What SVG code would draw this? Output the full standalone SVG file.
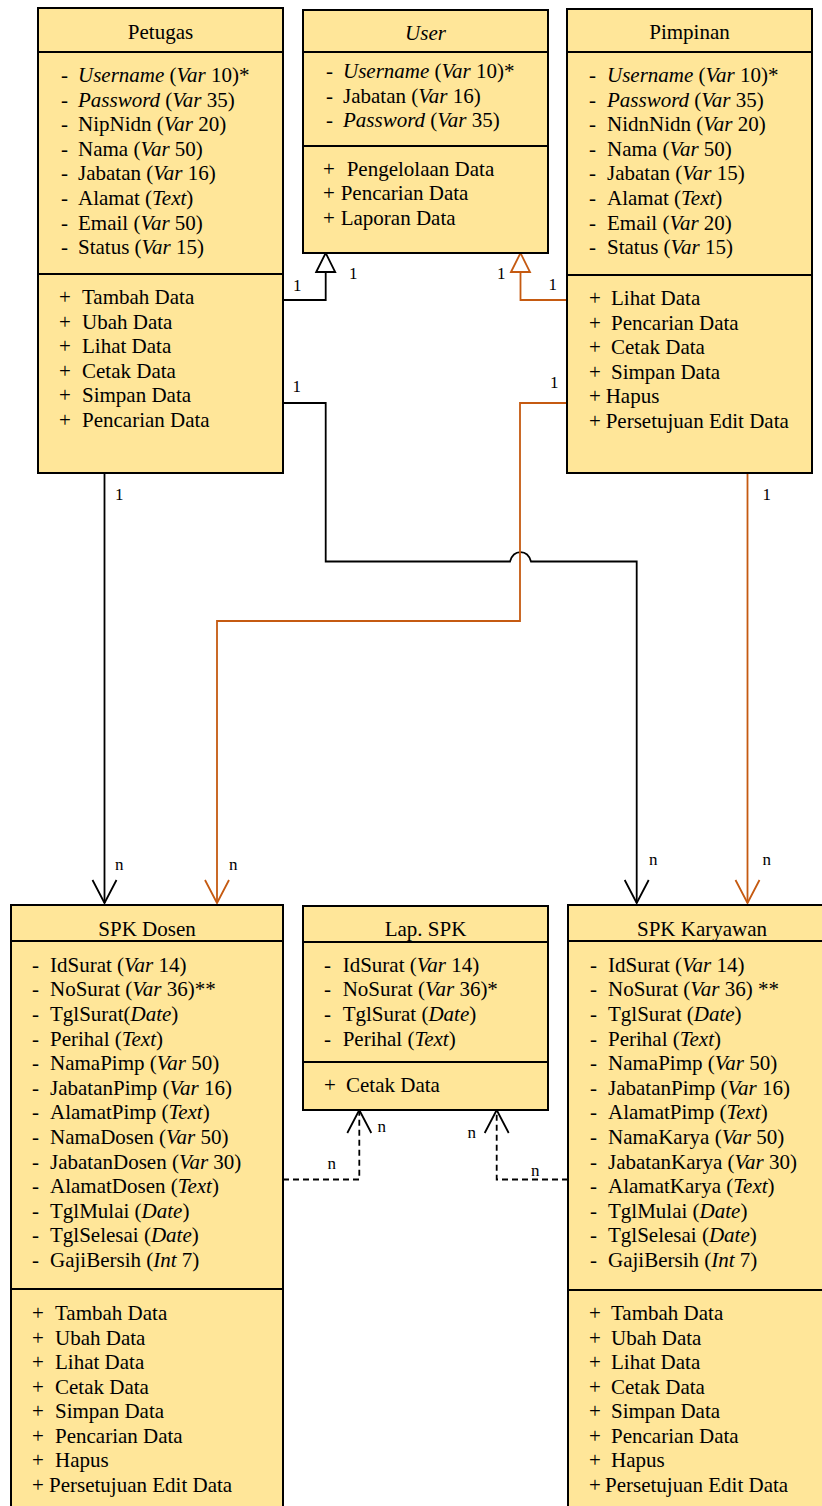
<svg xmlns="http://www.w3.org/2000/svg" width="822" height="1506" viewBox="0 0 822 1506">
<style>
.box{fill:#FFE699;stroke:#000;stroke-width:2}
.div{stroke:#000;stroke-width:2}
text{font-family:Liberation Serif,Tinos,Nimbus Roman,Nimbus Roman No9 L,Noto Serif,DejaVu Serif,FreeSerif,Times New Roman,Times,serif;font-size:21px;fill:#000}
.t{text-anchor:middle}
.i{font-style:italic}
.lbl{font-size:17px}
.cb{fill:none;stroke:#000;stroke-width:1.8}
.co{fill:none;stroke:#C55A11;stroke-width:1.8}
.dash{stroke-dasharray:6 4}
</style>
<defs>
<marker id="openB" markerUnits="userSpaceOnUse" markerWidth="30" markerHeight="30" viewBox="-2 -2 30 28" refX="24" refY="12" orient="auto" overflow="visible"><path d="M1,0 L24,12 L1,24" fill="none" stroke="#000" stroke-width="1.8" stroke-dasharray="none"/></marker>
<marker id="openO" markerUnits="userSpaceOnUse" markerWidth="30" markerHeight="30" viewBox="-2 -2 30 28" refX="24" refY="12" orient="auto" overflow="visible"><path d="M1,0 L24,12 L1,24" fill="none" stroke="#C55A11" stroke-width="1.8"/></marker>
<marker id="triB" markerUnits="userSpaceOnUse" markerWidth="24" markerHeight="24" viewBox="-2 -2 24 24" refX="0" refY="9.5" orient="auto" overflow="visible"><path d="M0,0 L19,9.5 L0,19 Z" fill="#fff" stroke="#000" stroke-width="1.8"/></marker>
<marker id="triO" markerUnits="userSpaceOnUse" markerWidth="24" markerHeight="24" viewBox="-2 -2 24 24" refX="0" refY="9.5" orient="auto" overflow="visible"><path d="M0,0 L19,9.5 L0,19 Z" fill="#fff" stroke="#C55A11" stroke-width="1.8"/></marker>
</defs>
<rect width="822" height="1506" fill="#fff"/>

<g id="connectors">
<path class="cb" d="M283,300 H325.7 V272" marker-end="url(#triB)"/>
<path class="co" d="M567,300 H520.5 V272" marker-end="url(#triO)"/>
<path class="cb" d="M283,403 H325.7 V561.5 H510 C513.5,549 527.5,549 531,561.5 H636.7 V903" marker-end="url(#openB)"/>
<path class="co" d="M567,403 H520 V621 H217 V903" marker-end="url(#openO)"/>
<path class="cb" d="M104.5,473 V903" marker-end="url(#openB)"/>
<path class="co" d="M747.5,473 V903" marker-end="url(#openO)"/>
<path class="cb dash" d="M283,1179.5 H359.3 V1110" marker-end="url(#openB)"/>
<path class="cb dash" d="M568,1179.5 H496.7 V1110" marker-end="url(#openB)"/>
<text class="lbl" x="293" y="291">1</text>
<text class="lbl" x="349" y="279">1</text>
<text class="lbl" x="497" y="279">1</text>
<text class="lbl" x="548.5" y="290">1</text>
<text class="lbl" x="292.5" y="392">1</text>
<text class="lbl" x="550" y="388">1</text>
<text class="lbl" x="115" y="500">1</text>
<text class="lbl" x="762.5" y="500">1</text>
<text class="lbl" x="115" y="870">n</text>
<text class="lbl" x="229" y="870">n</text>
<text class="lbl" x="649" y="865">n</text>
<text class="lbl" x="762.5" y="865">n</text>
<text class="lbl" x="377.5" y="1132">n</text>
<text class="lbl" x="327.5" y="1169">n</text>
<text class="lbl" x="467.5" y="1138">n</text>
<text class="lbl" x="531" y="1176">n</text>
</g>

<g id="petugas">
<rect class="box" x="38" y="8" width="245" height="465"/>
<line class="div" x1="38" y1="52" x2="283" y2="52"/>
<line class="div" x1="38" y1="274" x2="283" y2="274"/>
<text class="t" x="160.5" y="39">Petugas</text>
<text y="82"><tspan x="61">-</tspan><tspan x="78" class="i">Username</tspan> (<tspan class="i">Var</tspan> 10)*</text>
<text y="106.6"><tspan x="61">-</tspan><tspan x="78" class="i">Password</tspan> (<tspan class="i">Var</tspan> 35)</text>
<text y="131.2"><tspan x="61">-</tspan><tspan x="78">NipNidn (</tspan><tspan class="i">Var</tspan> 20)</text>
<text y="155.8"><tspan x="61">-</tspan><tspan x="78">Nama (</tspan><tspan class="i">Var</tspan> 50)</text>
<text y="180.4"><tspan x="61">-</tspan><tspan x="78">Jabatan (</tspan><tspan class="i">Var</tspan> 16)</text>
<text y="205"><tspan x="61">-</tspan><tspan x="78">Alamat (</tspan><tspan class="i">Text</tspan>)</text>
<text y="229.6"><tspan x="61">-</tspan><tspan x="78">Email (</tspan><tspan class="i">Var</tspan> 50)</text>
<text y="254.2"><tspan x="61">-</tspan><tspan x="78">Status (</tspan><tspan class="i">Var</tspan> 15)</text>
<text y="304"><tspan x="59">+</tspan><tspan x="82">Tambah Data</tspan></text>
<text y="328.6"><tspan x="59">+</tspan><tspan x="82">Ubah Data</tspan></text>
<text y="353.2"><tspan x="59">+</tspan><tspan x="82">Lihat Data</tspan></text>
<text y="377.8"><tspan x="59">+</tspan><tspan x="82">Cetak Data</tspan></text>
<text y="402.4"><tspan x="59">+</tspan><tspan x="82">Simpan Data</tspan></text>
<text y="427"><tspan x="59">+</tspan><tspan x="82">Pencarian Data</tspan></text>
</g>

<g id="user">
<rect class="box" x="303" y="10" width="245" height="243"/>
<line class="div" x1="303" y1="52" x2="548" y2="52"/>
<line class="div" x1="303" y1="146" x2="548" y2="146"/>
<text class="t i" x="425.5" y="40">User</text>
<text y="78"><tspan x="326">-</tspan><tspan x="343" class="i">Username</tspan> (<tspan class="i">Var</tspan> 10)*</text>
<text y="102.6"><tspan x="326">-</tspan><tspan x="343">Jabatan (</tspan><tspan class="i">Var</tspan> 16)</text>
<text y="127.2"><tspan x="326">-</tspan><tspan x="343" class="i">Password</tspan> (<tspan class="i">Var</tspan> 35)</text>
<text y="175.7"><tspan x="323">+</tspan><tspan x="346.7">Pengelolaan Data</tspan></text>
<text y="200.3"><tspan x="323">+</tspan><tspan x="340.7">Pencarian Data</tspan></text>
<text y="224.9"><tspan x="323">+</tspan><tspan x="340.7">Laporan Data</tspan></text>
</g>

<g id="pimpinan">
<rect class="box" x="567" y="9" width="245" height="464"/>
<line class="div" x1="567" y1="52" x2="812" y2="52"/>
<line class="div" x1="567" y1="275" x2="812" y2="275"/>
<text class="t" x="689.5" y="39">Pimpinan</text>
<text y="82"><tspan x="589">-</tspan><tspan x="607" class="i">Username</tspan> (<tspan class="i">Var</tspan> 10)*</text>
<text y="106.6"><tspan x="589">-</tspan><tspan x="607" class="i">Password</tspan> (<tspan class="i">Var</tspan> 35)</text>
<text y="131.2"><tspan x="589">-</tspan><tspan x="607">NidnNidn (</tspan><tspan class="i">Var</tspan> 20)</text>
<text y="155.8"><tspan x="589">-</tspan><tspan x="607">Nama (</tspan><tspan class="i">Var</tspan> 50)</text>
<text y="180.4"><tspan x="589">-</tspan><tspan x="607">Jabatan (</tspan><tspan class="i">Var</tspan> 15)</text>
<text y="205"><tspan x="589">-</tspan><tspan x="607">Alamat (</tspan><tspan class="i">Text</tspan>)</text>
<text y="229.6"><tspan x="589">-</tspan><tspan x="607">Email (</tspan><tspan class="i">Var</tspan> 20)</text>
<text y="254.2"><tspan x="589">-</tspan><tspan x="607">Status (</tspan><tspan class="i">Var</tspan> 15)</text>
<text y="305"><tspan x="589">+</tspan><tspan x="611">Lihat Data</tspan></text>
<text y="329.6"><tspan x="589">+</tspan><tspan x="611">Pencarian Data</tspan></text>
<text y="354.2"><tspan x="589">+</tspan><tspan x="611">Cetak Data</tspan></text>
<text y="378.8"><tspan x="589">+</tspan><tspan x="611">Simpan Data</tspan></text>
<text y="403.4"><tspan x="589">+</tspan><tspan x="605.7">Hapus</tspan></text>
<text y="428"><tspan x="589">+</tspan><tspan x="605.7">Persetujuan Edit Data</tspan></text>
</g>

<g id="spk-dosen">
<rect class="box" x="11" y="905" width="272" height="610"/>
<line class="div" x1="11" y1="941" x2="283" y2="941"/>
<line class="div" x1="11" y1="1289" x2="283" y2="1289"/>
<text class="t" x="147" y="935.5">SPK Dosen</text>
<text y="971.7"><tspan x="32">-</tspan><tspan x="50">IdSurat (</tspan><tspan class="i">Var</tspan> 14)</text>
<text y="996.3"><tspan x="32">-</tspan><tspan x="50">NoSurat (</tspan><tspan class="i">Var</tspan> 36)**</text>
<text y="1020.9"><tspan x="32">-</tspan><tspan x="50">TglSurat(</tspan><tspan class="i">Date</tspan>)</text>
<text y="1045.5"><tspan x="32">-</tspan><tspan x="50">Perihal (</tspan><tspan class="i">Text</tspan>)</text>
<text y="1070.1"><tspan x="32">-</tspan><tspan x="50">NamaPimp (</tspan><tspan class="i">Var</tspan> 50)</text>
<text y="1094.7"><tspan x="32">-</tspan><tspan x="50">JabatanPimp (</tspan><tspan class="i">Var</tspan> 16)</text>
<text y="1119.3"><tspan x="32">-</tspan><tspan x="50">AlamatPimp (</tspan><tspan class="i">Text</tspan>)</text>
<text y="1143.9"><tspan x="32">-</tspan><tspan x="50">NamaDosen (</tspan><tspan class="i">Var</tspan> 50)</text>
<text y="1168.5"><tspan x="32">-</tspan><tspan x="50">JabatanDosen (</tspan><tspan class="i">Var</tspan> 30)</text>
<text y="1193.1"><tspan x="32">-</tspan><tspan x="50">AlamatDosen (</tspan><tspan class="i">Text</tspan>)</text>
<text y="1217.7"><tspan x="32">-</tspan><tspan x="50">TglMulai (</tspan><tspan class="i">Date</tspan>)</text>
<text y="1242.3"><tspan x="32">-</tspan><tspan x="50">TglSelesai (</tspan><tspan class="i">Date</tspan>)</text>
<text y="1266.9"><tspan x="32">-</tspan><tspan x="50">GajiBersih (</tspan><tspan class="i">Int</tspan> 7)</text>
<text y="1320"><tspan x="32">+</tspan><tspan x="55">Tambah Data</tspan></text>
<text y="1344.5"><tspan x="32">+</tspan><tspan x="55">Ubah Data</tspan></text>
<text y="1369"><tspan x="32">+</tspan><tspan x="55">Lihat Data</tspan></text>
<text y="1393.6"><tspan x="32">+</tspan><tspan x="55">Cetak Data</tspan></text>
<text y="1418.1"><tspan x="32">+</tspan><tspan x="55">Simpan Data</tspan></text>
<text y="1442.7"><tspan x="32">+</tspan><tspan x="55">Pencarian Data</tspan></text>
<text y="1467.2"><tspan x="32">+</tspan><tspan x="55">Hapus</tspan></text>
<text y="1491.7"><tspan x="32">+</tspan><tspan x="49">Persetujuan Edit Data</tspan></text>
</g>

<g id="lap-spk">
<rect class="box" x="303" y="906" width="245" height="204"/>
<line class="div" x1="303" y1="942" x2="548" y2="942"/>
<line class="div" x1="303" y1="1062" x2="548" y2="1062"/>
<text class="t" x="425.5" y="936">Lap. SPK</text>
<text y="971.7"><tspan x="324">-</tspan><tspan x="342.7">IdSurat (</tspan><tspan class="i">Var</tspan> 14)</text>
<text y="996.3"><tspan x="324">-</tspan><tspan x="342.7">NoSurat (</tspan><tspan class="i">Var</tspan> 36)*</text>
<text y="1020.9"><tspan x="324">-</tspan><tspan x="342.7">TglSurat (</tspan><tspan class="i">Date</tspan>)</text>
<text y="1045.5"><tspan x="324">-</tspan><tspan x="342.7">Perihal (</tspan><tspan class="i">Text</tspan>)</text>
<text y="1091.7"><tspan x="324">+</tspan><tspan x="346">Cetak Data</tspan></text>
</g>

<g id="spk-karyawan">
<rect class="box" x="568" y="905" width="268" height="610"/>
<line class="div" x1="568" y1="941" x2="836" y2="941"/>
<line class="div" x1="568" y1="1290" x2="836" y2="1290"/>
<text class="t" x="702" y="935.5">SPK Karyawan</text>
<text y="971.7"><tspan x="590">-</tspan><tspan x="608">IdSurat (</tspan><tspan class="i">Var</tspan> 14)</text>
<text y="996.3"><tspan x="590">-</tspan><tspan x="608">NoSurat (</tspan><tspan class="i">Var</tspan> 36) **</text>
<text y="1020.9"><tspan x="590">-</tspan><tspan x="608">TglSurat (</tspan><tspan class="i">Date</tspan>)</text>
<text y="1045.5"><tspan x="590">-</tspan><tspan x="608">Perihal (</tspan><tspan class="i">Text</tspan>)</text>
<text y="1070.1"><tspan x="590">-</tspan><tspan x="608">NamaPimp (</tspan><tspan class="i">Var</tspan> 50)</text>
<text y="1094.7"><tspan x="590">-</tspan><tspan x="608">JabatanPimp (</tspan><tspan class="i">Var</tspan> 16)</text>
<text y="1119.3"><tspan x="590">-</tspan><tspan x="608">AlamatPimp (</tspan><tspan class="i">Text</tspan>)</text>
<text y="1143.9"><tspan x="590">-</tspan><tspan x="608">NamaKarya (</tspan><tspan class="i">Var</tspan> 50)</text>
<text y="1168.5"><tspan x="590">-</tspan><tspan x="608">JabatanKarya (</tspan><tspan class="i">Var</tspan> 30)</text>
<text y="1193.1"><tspan x="590">-</tspan><tspan x="608">AlamatKarya (</tspan><tspan class="i">Text</tspan>)</text>
<text y="1217.7"><tspan x="590">-</tspan><tspan x="608">TglMulai (</tspan><tspan class="i">Date</tspan>)</text>
<text y="1242.3"><tspan x="590">-</tspan><tspan x="608">TglSelesai (</tspan><tspan class="i">Date</tspan>)</text>
<text y="1266.9"><tspan x="590">-</tspan><tspan x="608">GajiBersih (</tspan><tspan class="i">Int</tspan> 7)</text>
<text y="1320"><tspan x="589">+</tspan><tspan x="611">Tambah Data</tspan></text>
<text y="1344.5"><tspan x="589">+</tspan><tspan x="611">Ubah Data</tspan></text>
<text y="1369"><tspan x="589">+</tspan><tspan x="611">Lihat Data</tspan></text>
<text y="1393.6"><tspan x="589">+</tspan><tspan x="611">Cetak Data</tspan></text>
<text y="1418.1"><tspan x="589">+</tspan><tspan x="611">Simpan Data</tspan></text>
<text y="1442.7"><tspan x="589">+</tspan><tspan x="611">Pencarian Data</tspan></text>
<text y="1467.2"><tspan x="589">+</tspan><tspan x="611">Hapus</tspan></text>
<text y="1491.7"><tspan x="589">+</tspan><tspan x="605">Persetujuan Edit Data</tspan></text>
</g>
</svg>
